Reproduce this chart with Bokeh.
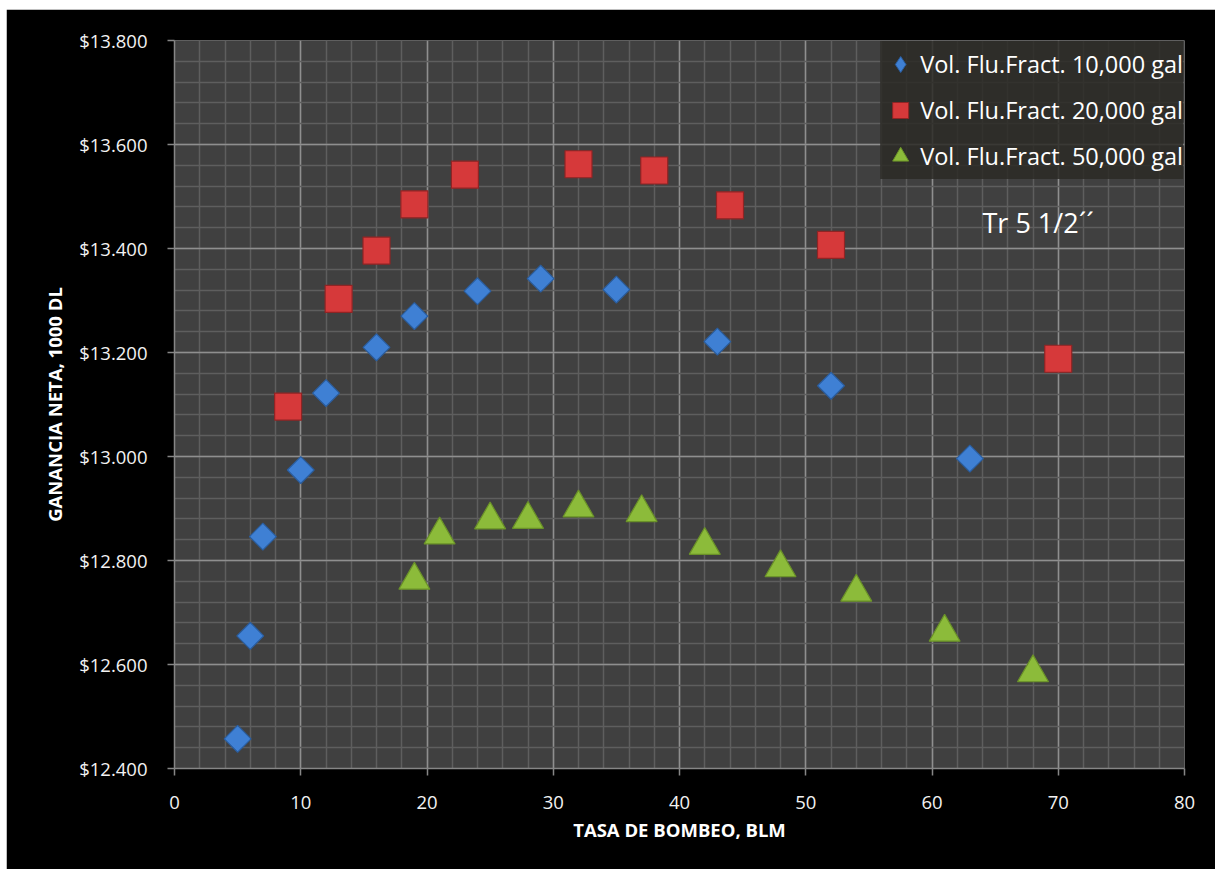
import math
from bokeh.plotting import figure
from bokeh.models import SingleIntervalTicker, CustomJSTickFormatter, Legend, LegendItem, Label, Spacer
from bokeh.layouts import column, row
from bokeh.embed import file_html
from bokeh.resources import INLINE

# ---- data ----
x_10k = [5, 6, 7, 10, 12, 16, 19, 24, 29, 35, 43, 52, 63]
y_10k = [12.457, 12.655, 12.846, 12.974, 13.122, 13.210, 13.270, 13.318, 13.342, 13.321, 13.221, 13.136, 12.996]

x_20k = [9, 13, 16, 19, 23, 32, 38, 44, 52, 70]
y_20k = [13.096, 13.303, 13.396, 13.485, 13.542, 13.562, 13.550, 13.483, 13.407, 13.188]

x_50k = [19, 21, 25, 28, 32, 37, 42, 48, 54, 61, 68]
y_50k = [12.762, 12.849, 12.878, 12.879, 12.901, 12.892, 12.829, 12.786, 12.739, 12.662, 12.584]

series_labels = ["Vol. Flu.Fract. 10,000 gal", "Vol. Flu.Fract. 20,000 gal", "Vol. Flu.Fract. 50,000 gal"]
x_title = "TASA DE BOMBEO, BLM"
y_title = "GANANCIA NETA, 1000 DL"
note_text = "Tr 5 1/2\u00b4\u00b4"

FONT = "Open Sans"
BLUE, BLUE_L = "#3f80d4", "#2a5d9e"
RED, RED_L = "#d6393a", "#8f2424"
GREEN, GREEN_L = "#8cbb3a", "#6a9128"

p = figure(width=1209, height=860, x_range=(0, 80), y_range=(12.4, 13.8),
           output_backend="svg", toolbar_location=None,
           background_fill_color="#404040", border_fill_color="black",
           outline_line_color=None,
           min_border_left=168, min_border_right=31, min_border_top=31, min_border_bottom=101)

# ticks
p.xaxis.ticker = SingleIntervalTicker(interval=10, num_minor_ticks=5)
p.yaxis.ticker = SingleIntervalTicker(interval=0.2, num_minor_ticks=5)
p.yaxis.formatter = CustomJSTickFormatter(code='return "$" + tick.toFixed(3);')

for ax in (p.xaxis, p.yaxis):
    ax.axis_line_color = "#868686"
    ax.axis_line_width = 1.5
    ax.major_tick_line_color = "#868686"
    ax.major_tick_line_width = 1.5
    ax.major_tick_out = 7
    ax.major_tick_in = 0
    ax.minor_tick_line_color = None
    ax.major_label_text_color = "#f2f2f2"
    ax.major_label_text_font = FONT
    ax.major_label_text_font_size = "18.5px"
    ax.axis_label_text_color = "white"
    ax.axis_label_text_font = FONT
    ax.axis_label_text_font_style = "bold"
    ax.axis_label_text_font_size = "18.5px"

p.xaxis.axis_label = x_title
p.yaxis.axis_label = y_title
p.xaxis.major_label_standoff = 20
p.yaxis.major_label_standoff = 20
p.xaxis.axis_label_standoff = 5
p.yaxis.axis_label_standoff = 9

# grids
for g in (p.xgrid, p.ygrid):
    g.grid_line_color = "#8f8f8f"
    g.grid_line_width = 1.5
    g.minor_grid_line_color = "#5e5e5e"
    g.minor_grid_line_width = 1.5

# markers
p.scatter(x_10k, y_10k, marker="square", size=19, angle=math.pi / 4,
          fill_color=BLUE, line_color=BLUE_L, line_width=1.2)
p.scatter(x_20k, y_20k, marker="square", size=27,
          fill_color=RED, line_color=RED_L, line_width=1.2)
p.scatter(x_50k, y_50k, marker="triangle", size=31,
          fill_color=GREEN, line_color=GREEN_L, line_width=1.2)

# legend-only (hidden) renderers so legend glyphs look like the reference
l1 = p.scatter(x_10k, y_10k, marker="diamond", size=10, fill_color=BLUE, line_color=BLUE_L, visible=False)
l2 = p.scatter(x_20k, y_20k, marker="square", size=10, fill_color=RED, line_color=RED_L, visible=False)
l3 = p.scatter(x_50k, y_50k, marker="triangle", size=10, fill_color=GREEN, line_color=GREEN_L, visible=False)

legend = Legend(items=[LegendItem(label=series_labels[0], renderers=[l1]),
                       LegendItem(label=series_labels[1], renderers=[l2]),
                       LegendItem(label=series_labels[2], renderers=[l3])],
                location="top_right", background_fill_color="#2b2a26", background_fill_alpha=0.85,
                border_line_color=None, label_text_color="white", label_text_font=FONT,
                label_text_font_size="23.5px", glyph_width=40, glyph_height=46, label_height=24,
                spacing=0, padding=5, margin=1, label_standoff=0,
                inactive_fill_alpha=0.0)
p.add_layout(legend)

p.add_layout(Label(x=64, y=13.45, text=note_text, text_color="white", text_font=FONT,
                   text_font_size="27px", text_baseline="middle"))

layout = column(Spacer(height=9), row(Spacer(width=6), p))
open("out.html", "w").write(file_html(layout, INLINE))
